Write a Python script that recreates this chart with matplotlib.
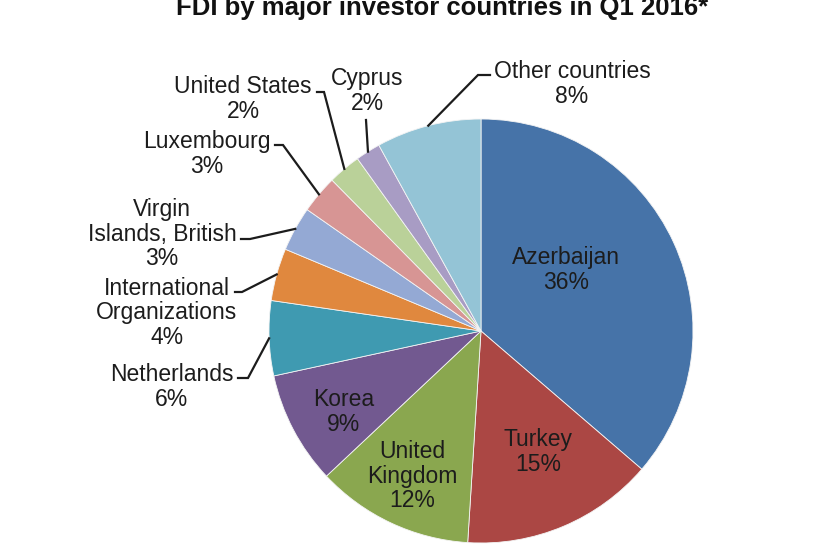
import matplotlib
matplotlib.use("Agg")
import matplotlib.pyplot as plt
import numpy as np

plt.rcParams["font.family"] = ["Liberation Sans", "DejaVu Sans"]

# ----------------------------------------------------------------
# Data: FDI by major investor countries, Q1 2016 (share, %)
# ----------------------------------------------------------------
countries = ["Azerbaijan", "Turkey", "United\nKingdom", "Korea", "Netherlands",
             "International\nOrganizations", "Virgin\nIslands, British",
             "Luxembourg", "United States", "Cyprus", "Other countries"]
shares = [36.3, 14.7, 12.0, 8.6, 5.7, 4.0, 3.4, 2.9, 2.5, 1.9, 8.0]
pct_labels = ["36%", "15%", "12%", "9%", "6%", "4%", "3%", "3%", "2%", "2%", "8%"]
colors = ["#4673A8", "#AB4744", "#8AA74F", "#725990", "#3F9AB1", "#E0883E",
          "#94A9D4", "#D79594", "#BAD199", "#A89CC4", "#94C4D6"]

# layout in pixel space (y measured from top of the 824x550 image)
W, H = 824, 550
CX, CY, R = 481, 331, 212

# inside labels: text centre
inside_pos = {0: (566, 270), 1: (538, 452), 2: (412, 476), 3: (344, 412)}
# outside labels: text centre, line start near text, elbow
outside_pos = {
    10: ((572, 84), (490, 75), (478, 75)),
    9: ((367, 91), (366, 120), (366, 120)),
    8: ((243, 99), (317, 92), (324, 92)),
    7: ((207, 154), (275, 145), (283, 145)),
    6: ((162, 234), (241, 239), (250, 239)),
    5: ((167, 313), (235, 292), (242, 292)),
    4: ((172, 387), (238, 378), (248, 378)),
}


def px(p):
    return p[0], H - p[1]


fig = plt.figure(figsize=(W / 100, H / 100), dpi=100)
ax = fig.add_axes([0, 0, 1, 1])

wedges, _ = ax.pie(shares, colors=colors, startangle=90, counterclock=False,
                   center=(CX, H - CY), radius=R,
                   wedgeprops=dict(edgecolor="#f4f4f4", linewidth=0.6))

ax.set_xlim(0, W)
ax.set_ylim(0, H)
ax.set_aspect("equal")
ax.axis("off")

txt_kw = dict(fontsize=16.5, color="#1c1c1c", ha="center", va="center",
              linespacing=1.08)

for i, pos in inside_pos.items():
    ax.text(*px(pos), countries[i] + "\n" + pct_labels[i], **txt_kw)

for i, (tpos, start, elbow) in outside_pos.items():
    ax.text(*px(tpos), countries[i] + "\n" + pct_labels[i], **txt_kw)
    w = wedges[i]
    mid = np.deg2rad((w.theta1 + w.theta2) / 2)
    ex = CX + R * np.cos(mid)
    ey = (H - CY) + R * np.sin(mid)
    sx, sy = px(start)
    bx, by = px(elbow)
    ax.plot([sx, bx, ex], [sy, by, ey], color="#1c1c1c", lw=1.6,
            solid_joinstyle="miter")

# title sits partly above the top edge, as in the source image
ax.text(442, H - 15, "FDI by major investor countries in Q1 2016*",
        fontsize=18.5, fontweight="bold", color="#111111",
        ha="center", va="baseline", clip_on=False)

fig.savefig("out.png", dpi=100, facecolor="white")
